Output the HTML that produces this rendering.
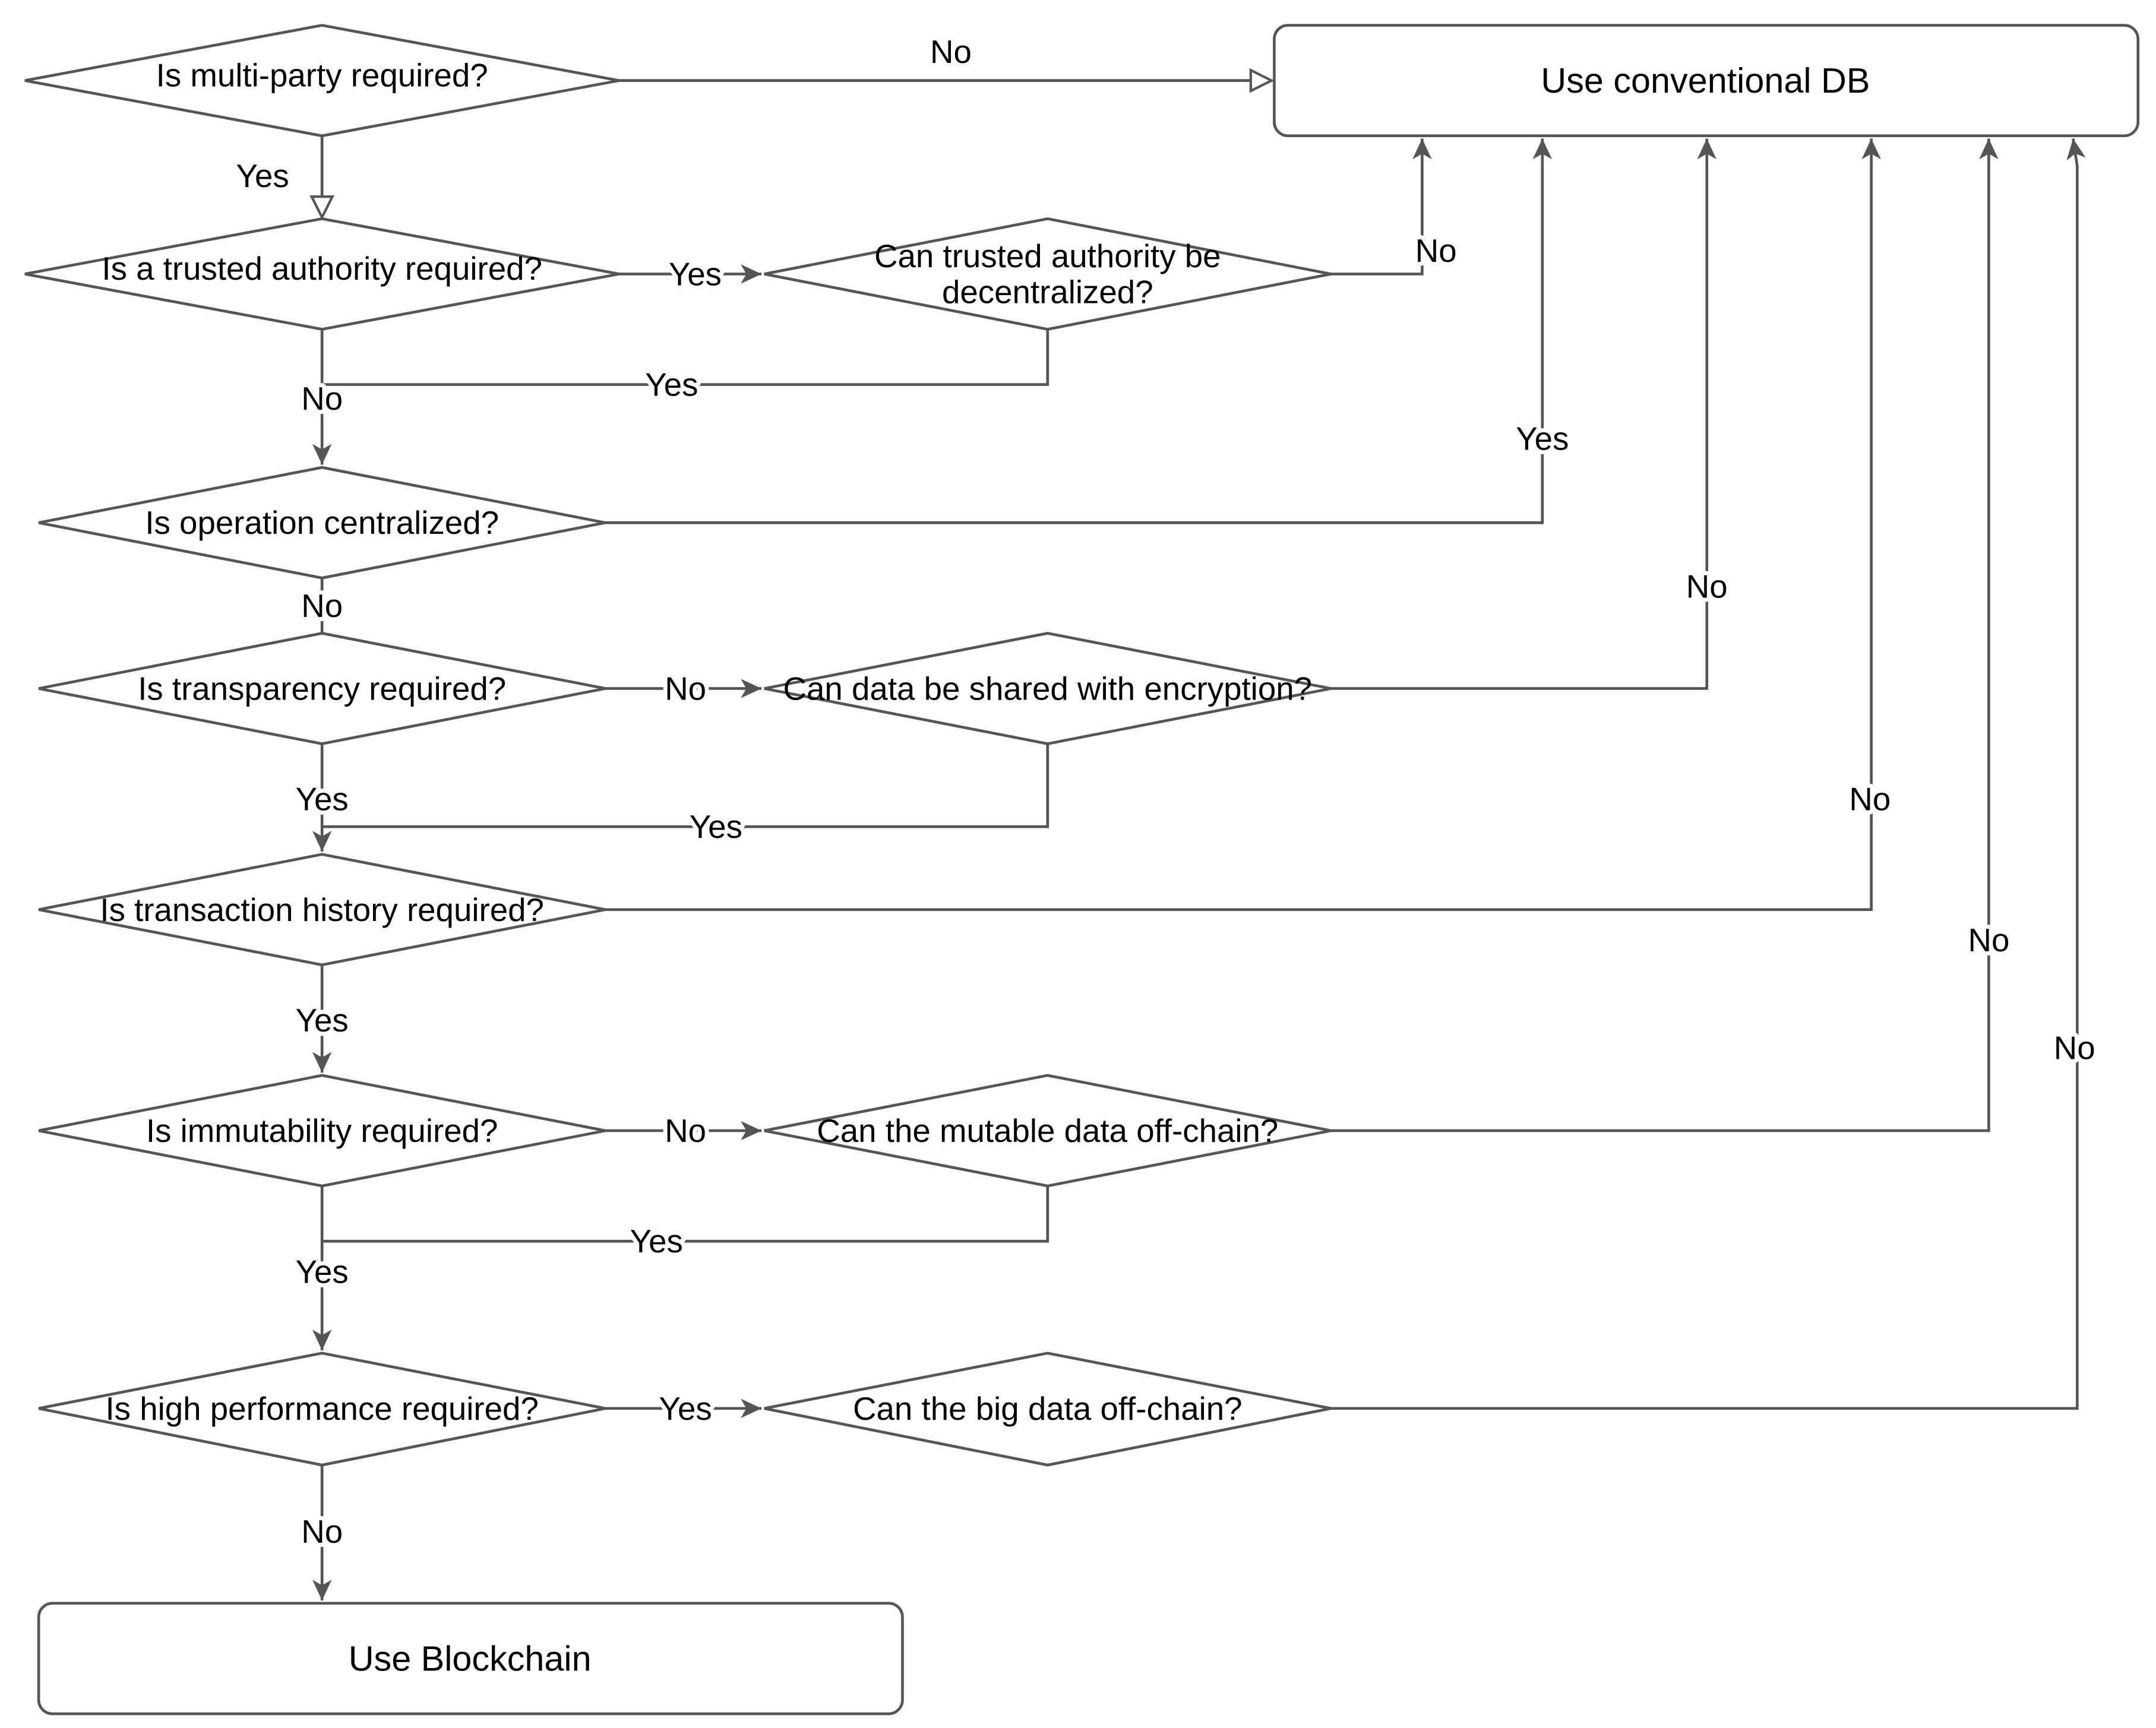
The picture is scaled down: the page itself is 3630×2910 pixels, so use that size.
<!DOCTYPE html>
<html><head><meta charset="utf-8"><style>
html,body{margin:0;padding:0;background:#fff;}
svg{display:block;}
text{font-family:"Liberation Sans",Arial,sans-serif;font-size:23.5px;fill:#000;text-anchor:middle;dominant-baseline:central;}
.l{paint-order:stroke;stroke:#fff;stroke-width:6px;stroke-linejoin:round;}
</style></head><body>
<svg width="3630" height="2910" viewBox="0 0 1560 1250" xmlns="http://www.w3.org/2000/svg">
<defs>
<marker id="o" viewBox="0 0 12 12" refX="11" refY="6" markerWidth="18" markerHeight="18" markerUnits="userSpaceOnUse" orient="auto">
<path d="M1,1 L11,6 L1,11 z" fill="#fff" stroke="#555" stroke-width="1.2"/></marker>
<marker id="b" viewBox="0 0 16 16" refX="15" refY="8" markerWidth="16" markerHeight="16" markerUnits="userSpaceOnUse" orient="auto">
<path d="M0,1 L15,8 L0,15 L4,8 z" fill="#555"/></marker>
</defs>
<g fill="none" stroke="#555" stroke-width="2">
<rect x="922" y="18" width="625" height="80" rx="10"/>
<rect x="28" y="1160" width="625" height="80" rx="10"/>
<path d="M18,58 L233,18 L448,58 L233,98 z"/>
<path d="M18,198 L233,158 L448,198 L233,238 z"/>
<path d="M553,198 L758,158 L963,198 L758,238 z"/>
<path d="M28,378 L233,338 L438,378 L233,418 z"/>
<path d="M28,498 L233,458 L438,498 L233,538 z"/>
<path d="M553,498 L758,458 L963,498 L758,538 z"/>
<path d="M28,658 L233,618 L438,658 L233,698 z"/>
<path d="M28,818 L233,778 L438,818 L233,858 z"/>
<path d="M553,818 L758,778 L963,818 L758,858 z"/>
<path d="M28,1019 L233,979 L438,1019 L233,1060 z"/>
<path d="M553,1019 L758,979 L963,1019 L758,1060 z"/>
<path d="M448,58 L920,58" marker-end="url(#o)"/>
<path d="M233,98 L233,157" marker-end="url(#o)"/>
<path d="M448,198 L551,198" marker-end="url(#b)"/>
<path d="M963,198 L1029,198 L1029,100" marker-end="url(#b)"/>
<path d="M758,238 L758,278 L233,278"/>
<path d="M233,238 L233,336" marker-end="url(#b)"/>
<path d="M438,378 L1116,378 L1116,100" marker-end="url(#b)"/>
<path d="M233,418 L233,458"/>
<path d="M438,498 L551,498" marker-end="url(#b)"/>
<path d="M963,498 L1235,498 L1235,100" marker-end="url(#b)"/>
<path d="M758,538 L758,598 L233,598"/>
<path d="M233,538 L233,616" marker-end="url(#b)"/>
<path d="M438,658 L1354,658 L1354,100" marker-end="url(#b)"/>
<path d="M233,698 L233,776" marker-end="url(#b)"/>
<path d="M438,818 L551,818" marker-end="url(#b)"/>
<path d="M963,818 L1439,818 L1439,100" marker-end="url(#b)"/>
<path d="M758,858 L758,898 L233,898"/>
<path d="M233,858 L233,977" marker-end="url(#b)"/>
<path d="M438,1019 L551,1019" marker-end="url(#b)"/>
<path d="M963,1019 L1503,1019 L1503,120 L1500,100" marker-end="url(#b)"/>
<path d="M233,1060 L233,1158" marker-end="url(#b)"/>
</g>
<text x="1234" y="58" style="font-size:25.5px">Use conventional DB</text>
<text x="340" y="1200" style="font-size:25.5px">Use Blockchain</text>
<text x="233" y="54">Is multi-party required?</text>
<text x="233" y="194">Is a trusted authority required?</text>
<text x="758" y="185">Can trusted authority be</text>
<text x="758" y="211">decentralized?</text>
<text x="233" y="378">Is operation centralized?</text>
<text x="233" y="498">Is transparency required?</text>
<text x="758" y="498">Can data be shared with encryption?</text>
<text x="233" y="658">Is transaction history required?</text>
<text x="233" y="818">Is immutability required?</text>
<text x="758" y="818">Can the mutable data off-chain?</text>
<text x="233" y="1019">Is high performance required?</text>
<text x="758" y="1019">Can the big data off-chain?</text>
<text class="l" x="688" y="37">No</text>
<text class="l" x="190" y="127">Yes</text>
<text class="l" x="503" y="198">Yes</text>
<text class="l" x="1039" y="181">No</text>
<text class="l" x="486" y="278">Yes</text>
<text class="l" x="233" y="288">No</text>
<text class="l" x="1116" y="317">Yes</text>
<text class="l" x="233" y="438">No</text>
<text class="l" x="496" y="498">No</text>
<text class="l" x="1235" y="424">No</text>
<text class="l" x="518" y="598">Yes</text>
<text class="l" x="233" y="578">Yes</text>
<text class="l" x="1353" y="578">No</text>
<text class="l" x="233" y="738">Yes</text>
<text class="l" x="496" y="818">No</text>
<text class="l" x="1439" y="680">No</text>
<text class="l" x="475" y="898">Yes</text>
<text class="l" x="233" y="920">Yes</text>
<text class="l" x="496" y="1019">Yes</text>
<text class="l" x="1501" y="758">No</text>
<text class="l" x="233" y="1108">No</text>
</svg>
</body></html>
